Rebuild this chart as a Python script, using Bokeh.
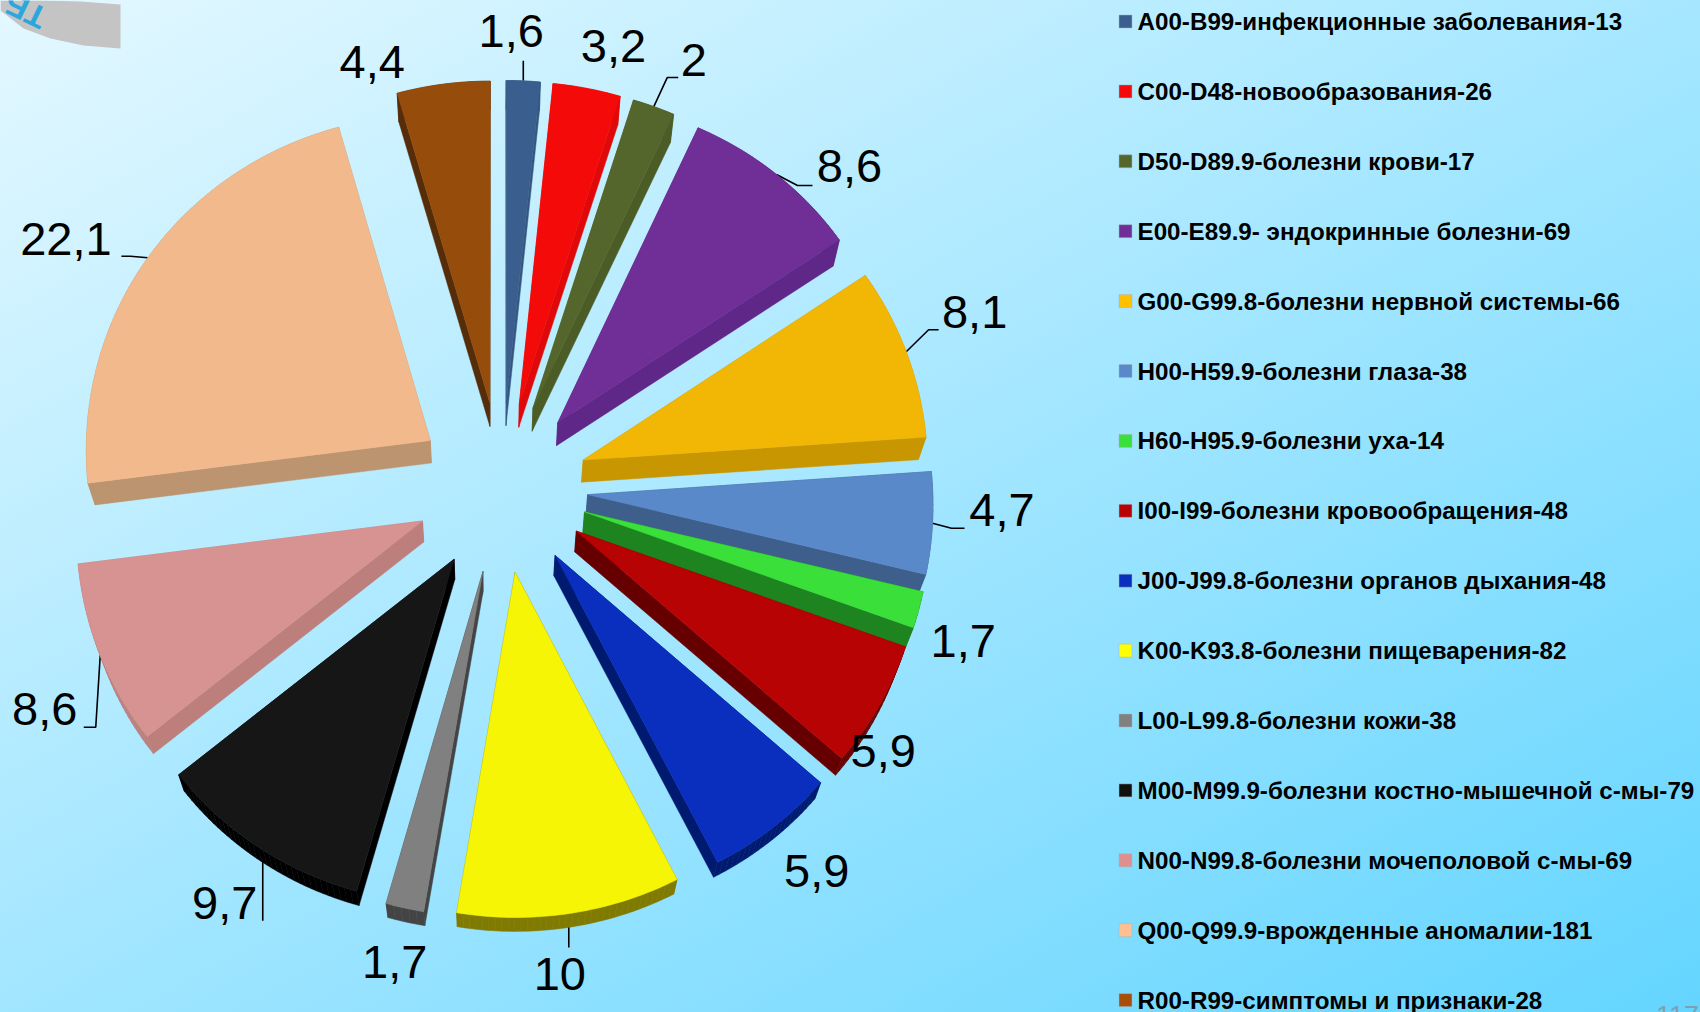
import numpy as np
from bokeh.plotting import figure
from bokeh.models import Range1d
from bokeh.core.properties import value
from bokeh.embed import file_html
from bokeh.resources import INLINE

# ---- data ----
legend_labels = [
    "A00-B99-инфекционные заболевания-13",
    "C00-D48-новообразования-26",
    "D50-D89.9-болезни крови-17",
    "E00-E89.9- эндокринные болезни-69",
    "G00-G99.8-болезни нервной системы-66",
    "H00-H59.9-болезни глаза-38",
    "H60-H95.9-болезни уха-14",
    "I00-I99-болезни кровообращения-48",
    "J00-J99.8-болезни органов дыхания-48",
    "K00-K93.8-болезни пищеварения-82",
    "L00-L99.8-болезни кожи-38",
    "M00-M99.9-болезни костно-мышечной с-мы-79",
    "N00-N99.8-болезни мочеполовой с-мы-69",
    "Q00-Q99.9-врожденные аномалии-181",
    "R00-R99-симптомы и признаки-28",
]
shares = [1.6, 3.2, 2, 8.6, 8.1, 4.7, 1.7, 5.9, 5.9, 10, 1.7, 9.7, 8.6, 22.1, 4.4]
share_labels = ["1,6", "3,2", "2", "8,6", "8,1", "4,7", "1,7", "5,9", "5,9", "10", "1,7", "9,7", "8,6", "22,1", "4,4"]

# ---- styles ----
top_colors = ["#3A5F8E", "#F50A0A", "#54662B", "#6F2F96", "#F2B705", "#5A89C9", "#3ADF3A", "#B70303",
              "#0A2EBE", "#F5F505", "#808080", "#161616", "#D69391", "#F2BA8C", "#964D0C"]
side_colors = ["#35577F", "#E00909", "#4B5C26", "#5F2788", "#C79600", "#3E5E8C", "#1E8420", "#660000",
               "#001A70", "#807A00", "#444444", "#000000", "#BC7F7C", "#BC946F", "#562D0A"]
legend_colors = ["#3A5F8E", "#F50A0A", "#54662B", "#6F2F96", "#FFC000", "#5A89C9", "#3ADF3A", "#B70303",
                 "#0A2EBE", "#FFFF00", "#808080", "#101010", "#E08F8F", "#FFC090", "#A84E08"]

# ---- layout (page pixels) ----
CX, CY, RADIUS, EXPLODE = 501.4, 487.0, 345.0, 86.0
VP_X, VP_Y, VP_T = 490.0, 1690.0, 0.018     # vanishing point of the extrusion
TOP_SQUEEZE = 0.055 / 428.0
X_PERSPECTIVE = 0.00007
LABEL_Y_SHIFT = -18.0
label_offset = [(-12, -32), (26.6, -24), (40, -29), (73, 10), (68.4, -22), (69.5, 5), (44.5, 49), (4, 63),
                (43.5, 62), (-10, 79), (-10, 72), (-33, 74), (-55.5, 72), (-82, -0.5), (-71, -4)]
leader_bends = {0: [(0, -20)], 2: [(13.4, -29), (24.4, -29)], 3: [(21, 11), (36, 11)], 4: [(22.4, -22), (32.4, -22)],
                5: [(19, 5), (32, 5)], 9: [(-1, 10), (-1, 34)], 11: [(5, 12), (5, 74)],
                12: [(-4.5, 72), (-16.5, 72)], 13: [(-17.5, -1.5), (-26.5, -1.5)]}
LEGEND_Y0, LEGEND_STEP = 21.0, 69.9
LEGEND_MARK_X, LEGEND_TEXT_X = 1125.0, 1137.0


def project(px, py):
    """plane offsets from the pie centre -> page pixels (slight perspective for the far side)"""
    px, py = np.asarray(px, float), np.asarray(py, float)
    return CX + px * (1 + X_PERSPECTIVE * py), CY + py * (1 + TOP_SQUEEZE * np.minimum(py, 0))


def extrude(x, y):
    return x + (VP_X - x) * VP_T, y + (VP_Y - y) * VP_T


total = sum(shares)
edges = np.cumsum([0] + shares) / total * 2 * np.pi

p = figure(width=1700, height=1012, x_range=Range1d(0, 1700), y_range=Range1d(1012, 0),
           output_backend="svg", toolbar_location=None, min_border=0, x_axis_type=None, y_axis_type=None)
p.grid.visible = False
p.outline_line_color = None
p.background_fill_color = None
p.border_fill_color = None
p.styles = {"background": "linear-gradient(151deg, rgb(228,248,255) 0%, rgb(100,213,255) 100%)"}

# corner decoration
p.patch([0, 42, 80, 120, 120, 83, 50, 23, 0], [0, 0, 1, 4, 48, 45, 38, 28, 10], fill_color="#C4C4C4", line_color=None)
p.text([25], [10], text=["ТБ"], text_color="#2CA6DC", text_font=value("Liberation Sans"), text_font_style="bold",
       text_font_size="32px", angle=[np.deg2rad(154)], text_align="center", text_baseline="middle")
p.text([1677], [1024], text=["117"], text_color="#7F9FB2", text_font=value("Liberation Sans"),
       text_font_size="27px", text_align="center")

# slices
top_x, top_y = [], []
anchors = []
order = []
for i, (a0, a1) in enumerate(zip(edges[:-1], edges[1:])):
    mid = (a0 + a1) / 2
    ex, ey = EXPLODE * np.sin(mid), -EXPLODE * np.cos(mid)
    t = np.linspace(a0, a1, max(6, int(np.degrees(a1 - a0))))
    gx = np.r_[ex, ex + RADIUS * np.sin(t)]
    gy = np.r_[ey, ey - RADIUS * np.cos(t)]
    x, y = project(gx, gy)
    anchors.append(tuple(float(v) for v in project(ex + RADIUS * np.sin(mid), ey - RADIUS * np.cos(mid))))
    top_x.append(x)
    top_y.append(y)
    order.append(float(y[0]))

# leader lines sit under the pie
lead_x, lead_y = [], []
for i, bends in leader_bends.items():
    ax, ay = anchors[i]
    lead_x.append([ax] + [ax + b[0] for b in bends])
    lead_y.append([ay] + [ay + b[1] for b in bends])
p.multi_line(lead_x, lead_y, line_color="#000000", line_width=1.6)

for i in np.argsort(order):
    x, y = top_x[i], top_y[i]
    bx, by = extrude(x, y)
    n = len(x)
    xs = [[x[k], x[(k + 1) % n], bx[(k + 1) % n], bx[k]] for k in range(n)]
    ys = [[y[k], y[(k + 1) % n], by[(k + 1) % n], by[k]] for k in range(n)]
    p.patches(xs, ys, fill_color=side_colors[i], line_color=side_colors[i], line_width=0.5)
    p.patch(x, y, fill_color=top_colors[i], line_color=top_colors[i], line_width=0.5)

# share labels
p.text([a[0] + o[0] for a, o in zip(anchors, label_offset)],
       [a[1] + o[1] + LABEL_Y_SHIFT for a, o in zip(anchors, label_offset)],
       text=share_labels, text_color="#000000", text_font=value("Liberation Sans"),
       text_font_size="47px", text_align="center", text_baseline="alphabetic")

# legend
rows = LEGEND_Y0 + LEGEND_STEP * np.arange(len(legend_labels))
p.scatter(np.full(len(rows), LEGEND_MARK_X), rows, marker="square", size=13, fill_color=legend_colors,
          line_color="#9FB4C0", line_width=0.5)
p.text(np.full(len(rows), LEGEND_TEXT_X), rows, text=legend_labels, text_color="#000000",
       text_font=value("Liberation Sans"), text_font_style="bold", text_font_size="24.2px",
       text_align="left", text_baseline="middle")

open("out.html", "w").write(file_html(p, INLINE))
